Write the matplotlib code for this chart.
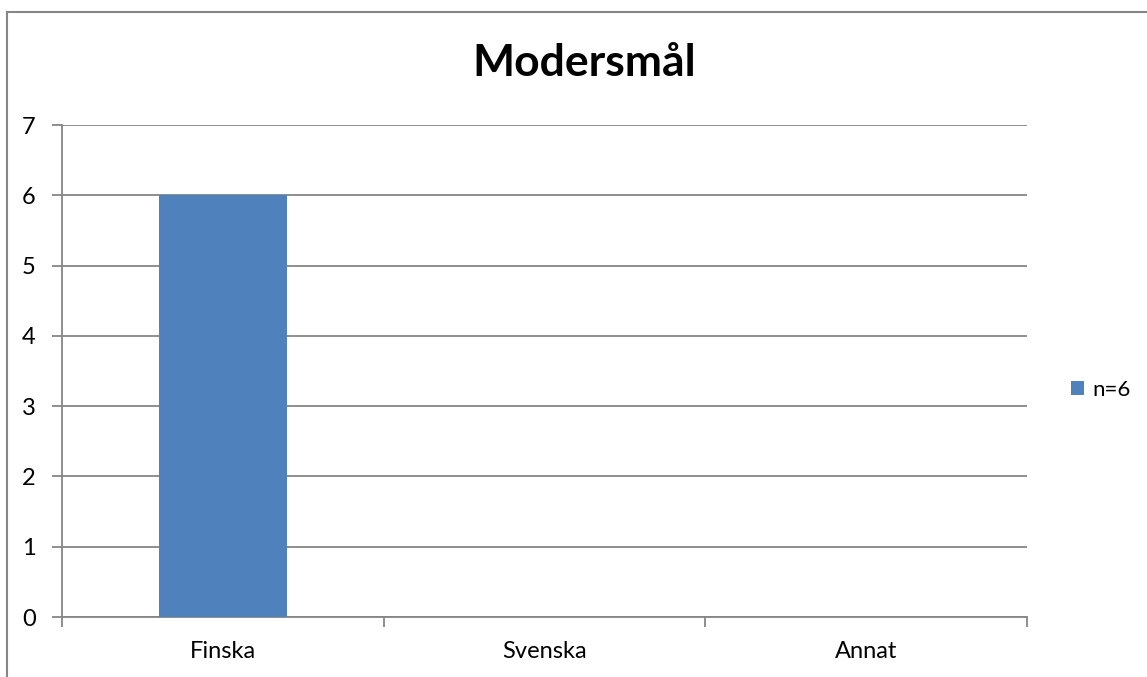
import matplotlib.pyplot as plt
from matplotlib.lines import Line2D
from matplotlib.patches import Patch
import numpy as np

plt.rcParams['font.family'] = ['Lato', 'DejaVu Sans']

categories = ['Finska', 'Svenska', 'Annat']
values = [6, 0, 0]
series_label = 'n=6'
title = 'Modersmål'

grid_color = '#868686'
bar_color = '#4F81BD'

fig = plt.figure(figsize=(11.47, 6.77), dpi=100)
ax = fig.add_axes([62 / 1147, 1 - 617 / 677, 965 / 1147, 492 / 677])

x = np.arange(len(categories))
ax.bar(x, values, width=0.4, color=bar_color, zorder=3)

ax.set_xlim(-0.5, len(categories) - 0.5)
ax.set_ylim(0, 7)
ax.set_yticks(range(0, 8))
ax.yaxis.grid(True, color=grid_color, linewidth=1.3, zorder=0)

# category labels centred, tick marks at the category boundaries
ax.set_xticks(x)
ax.set_xticklabels(categories, fontsize=17)
ax.set_xticks(np.arange(-0.5, len(categories)), minor=True)
ax.tick_params(axis='x', which='major', length=0, pad=17)
ax.tick_params(axis='x', which='minor', length=7, width=1.3, color=grid_color)
ax.tick_params(axis='y', length=7, width=1.3, color=grid_color, labelsize=17, pad=12)

for side in ['top', 'right']:
    ax.spines[side].set_visible(False)
for side in ['left', 'bottom']:
    ax.spines[side].set_color(grid_color)
    ax.spines[side].set_linewidth(1.3)

fig.text(584 / 1147, 1 - 63 / 677, title, fontsize=32, fontweight='bold',
         ha='center', va='center')

handle = Patch(facecolor=bar_color, edgecolor='none')
fig.legend([handle], [series_label], loc='center left',
           bbox_to_anchor=(1051 / 1147, 1 - 390 / 677), frameon=False,
           fontsize=16, handlelength=0.6, handleheight=0.6, handletextpad=0.35)

# chart frame
fx, fy = 7 / 1147, 1 - 12 / 677
fig.add_artist(Line2D([fx, fx], [0, fy], color=grid_color, linewidth=1.5))
fig.add_artist(Line2D([fx, 1], [fy, fy], color=grid_color, linewidth=1.5))

fig.savefig('out.png', dpi=100)
